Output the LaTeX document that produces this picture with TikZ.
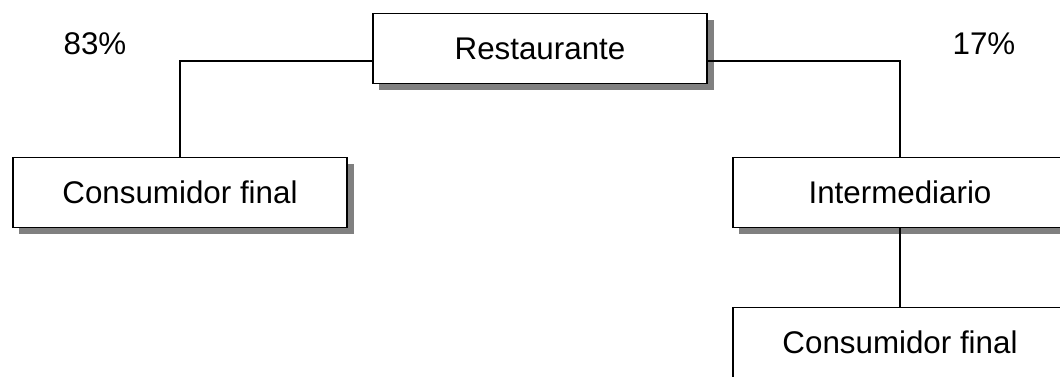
\documentclass[tikz,border=0pt]{standalone}
\usepackage{fontspec}
\setmainfont{Liberation Sans}
\usetikzlibrary{shadows}
\begin{document}
\begin{tikzpicture}[x=0.75pt,y=0.75pt,
  box/.style={draw, line width=1.3pt, fill=white, minimum width=251pt, minimum height=52.5pt, inner sep=0pt,
    drop shadow={shadow xshift=5pt, shadow yshift=-5pt, fill=black!50, opacity=1}},
  link/.style={line width=1.25pt},
  font=\fontsize{23.5pt}{28pt}\selectfont]
\useasboundingbox (0,0) rectangle (1060,377);
\node[box] (rest) at (540,328.5) {Restaurante};
\node[box] (cons1) at (180,184.5) {Consumidor final};
\node[box] (inter) at (900,184.5) {Intermediario};
\node[box] (cons2) at (900,34.5) {Consumidor final};
\node (p1) at (95,333) {83\%};
\node (p2) at (984,333) {17\%};
\draw[link] ([yshift=-9.4pt]rest.west) -| (cons1.north);
\draw[link] ([yshift=-9.4pt]rest.east) -| (inter.north);
\draw[link] (inter.south) -- (cons2.north);
\end{tikzpicture}
\end{document}
